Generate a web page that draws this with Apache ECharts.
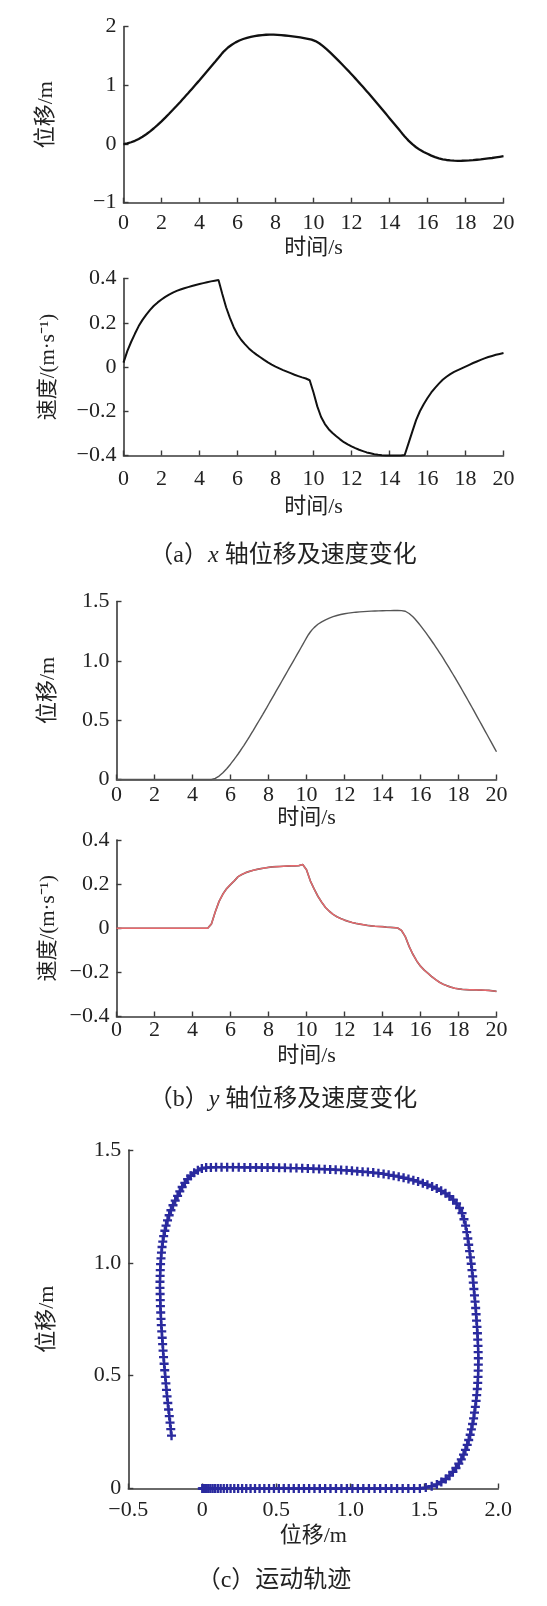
<!DOCTYPE html>
<html>
<head>
<meta charset="utf-8">
<script src="https://cdn.jsdelivr.net/npm/echarts@6/dist/echarts.min.js"></script>
<style>
html,body{margin:0;padding:0;background:#fff;}
#chart{width:547px;height:1606px;}
</style>
</head>
<body>
<div id="chart"></div>
<script>
// ---------------- DATA ----------------
// Displacements sampled every 0.1 s (t = 0 ... 20 s)
const dispStep = 0.1;
const xDisp = [
 0.000, 0.004, 0.010, 0.019, 0.030, 0.042, 0.055, 0.070, 0.087, 0.105, 0.124,
 0.145, 0.167, 0.191, 0.216, 0.242, 0.269, 0.297, 0.326, 0.356, 0.387,
 0.419, 0.451, 0.484, 0.517, 0.550, 0.584, 0.618, 0.652, 0.687, 0.722,
 0.758, 0.794, 0.830, 0.866, 0.903, 0.940, 0.977, 1.014, 1.051, 1.088,
 1.126, 1.164, 1.202, 1.240, 1.278, 1.316, 1.354, 1.392, 1.431, 1.470,
 1.510, 1.550, 1.585, 1.615, 1.645, 1.670, 1.693, 1.714, 1.733, 1.750,
 1.765, 1.778, 1.790, 1.800, 1.810, 1.818, 1.826, 1.833, 1.839, 1.845,
 1.850, 1.854, 1.858, 1.861, 1.863, 1.864, 1.865, 1.865, 1.864, 1.863,
 1.861, 1.859, 1.856, 1.853, 1.850, 1.847, 1.843, 1.839, 1.835, 1.831,
 1.827, 1.822, 1.817, 1.812, 1.806, 1.800, 1.794, 1.787, 1.779, 1.768,
 1.755, 1.738, 1.718, 1.695, 1.670, 1.643, 1.614, 1.584, 1.553, 1.521,
 1.490, 1.458, 1.426, 1.393, 1.360, 1.327, 1.293, 1.259, 1.225, 1.190,
 1.155, 1.119, 1.083, 1.047, 1.011, 0.975, 0.938, 0.901, 0.864, 0.827,
 0.789, 0.751, 0.713, 0.675, 0.636, 0.597, 0.558, 0.519, 0.480, 0.441,
 0.402, 0.363, 0.324, 0.285, 0.246, 0.207, 0.168, 0.130, 0.093, 0.058,
 0.026, -0.003, -0.030, -0.055, -0.078, -0.099, -0.118, -0.136, -0.152, -0.167,
 -0.183, -0.198, -0.212, -0.224, -0.235, -0.245, -0.253, -0.261, -0.267, -0.272,
 -0.276, -0.279, -0.282, -0.284, -0.285, -0.286, -0.286, -0.285, -0.284, -0.283,
 -0.281, -0.279, -0.277, -0.274, -0.271, -0.268, -0.265, -0.262, -0.258, -0.254,
 -0.250, -0.246, -0.242, -0.238, -0.233, -0.228, -0.223, -0.218, -0.213, -0.208
];
const yDisp = [
 0, 0, 0, 0, 0, 0, 0, 0, 0, 0,
 0, 0, 0, 0, 0, 0, 0, 0, 0, 0,
 0, 0, 0, 0, 0, 0, 0, 0, 0, 0,
 0, 0, 0, 0, 0, 0, 0, 0, 0, 0,
 0, 0, 0, 0, 0, 0, 0, 0, 0, 0, 0.000,
 0.004, 0.010, 0.018, 0.029, 0.042, 0.057, 0.074, 0.091, 0.110, 0.129,
 0.150, 0.171, 0.193, 0.215, 0.238, 0.262, 0.286, 0.311, 0.336, 0.362,
 0.388, 0.414, 0.441, 0.468, 0.495, 0.522, 0.549, 0.577, 0.604, 0.632,
 0.660, 0.688, 0.716, 0.744, 0.772, 0.800, 0.828, 0.856, 0.884, 0.912,
 0.940, 0.968, 0.996, 1.024, 1.052, 1.080, 1.108, 1.136, 1.165, 1.193,
 1.220, 1.243, 1.263, 1.280, 1.295, 1.308, 1.319, 1.329, 1.338, 1.346,
 1.353, 1.360, 1.366, 1.372, 1.377, 1.382, 1.386, 1.390, 1.394, 1.397,
 1.400, 1.402, 1.404, 1.406, 1.408, 1.410, 1.411, 1.413, 1.414, 1.415,
 1.416, 1.417, 1.418, 1.419, 1.420, 1.420, 1.421, 1.421, 1.422, 1.422,
 1.422, 1.423, 1.423, 1.423, 1.424, 1.424, 1.424, 1.424, 1.424, 1.423,
 1.422, 1.418, 1.410, 1.399, 1.386, 1.371, 1.354, 1.336, 1.317, 1.297,
 1.276, 1.255, 1.233, 1.211, 1.188, 1.165, 1.142, 1.118, 1.094, 1.070,
 1.045, 1.020, 0.994, 0.968, 0.942, 0.916, 0.889, 0.862, 0.835, 0.808,
 0.780, 0.752, 0.724, 0.696, 0.668, 0.640, 0.611, 0.582, 0.553, 0.524,
 0.495, 0.466, 0.437, 0.408, 0.379, 0.350, 0.321, 0.292, 0.263, 0.234
];
// Velocities sampled every 0.2 s (t = 0 ... 20 s)
const velStep = 0.2;
const xVel = [
 0.020, 0.072, 0.113, 0.150, 0.185, 0.213, 0.237, 0.258, 0.277, 0.292, 0.305,
 0.317, 0.327, 0.336, 0.344, 0.350, 0.356, 0.361, 0.366, 0.371, 0.375,
 0.379, 0.383, 0.387, 0.390, 0.393, 0.330, 0.270, 0.222, 0.180, 0.147,
 0.122, 0.102, 0.084, 0.069, 0.056, 0.044, 0.032, 0.021, 0.011, 0.002,
 -0.006, -0.014, -0.021, -0.028, -0.035, -0.041, -0.047, -0.052, -0.060, -0.115,
 -0.178, -0.226, -0.258, -0.281, -0.298, -0.313, -0.327, -0.340, -0.350, -0.359,
 -0.367, -0.374, -0.380, -0.386, -0.390, -0.394, -0.397, -0.399, -0.400, -0.400,
 -0.400, -0.400, -0.400, -0.398, -0.345, -0.292, -0.240, -0.200, -0.168, -0.140,
 -0.115, -0.094, -0.075, -0.058, -0.044, -0.032, -0.022, -0.014, -0.006, 0.002,
 0.010, 0.018, 0.025, 0.032, 0.039, 0.045, 0.050, 0.055, 0.059, 0.063
];
const yVel = [
 0, 0, 0, 0, 0, 0, 0, 0, 0, 0, 0, 0, 0, 0, 0, 0, 0, 0, 0, 0, 0, 0, 0, 0, 0,
 0.020, 0.075, 0.122, 0.155, 0.180, 0.198, 0.215, 0.234, 0.244, 0.252,
 0.258, 0.263, 0.267, 0.270, 0.273, 0.276, 0.278, 0.279, 0.280, 0.281,
 0.282, 0.283, 0.283, 0.284, 0.289,
 0.265, 0.215, 0.178, 0.145, 0.118, 0.094, 0.077, 0.063, 0.052, 0.044,
 0.037, 0.031, 0.026, 0.022, 0.019, 0.016, 0.013, 0.011, 0.009, 0.008,
 0.007, 0.005, 0.004, 0.003, 0.001,
 -0.010, -0.038, -0.082, -0.118, -0.148, -0.172, -0.190, -0.205, -0.220, -0.233,
 -0.245, -0.254, -0.261, -0.267, -0.272, -0.275, -0.277, -0.278, -0.279, -0.279,
 -0.280, -0.280, -0.281, -0.282, -0.284, -0.286
];
// Tick values and labels
const timeTickValues = [0, 2, 4, 6, 8, 10, 12, 14, 16, 18, 20];
const timeTickLabels = ['0', '2', '4', '6', '8', '10', '12', '14', '16', '18', '20'];
const xDispTickValues = [-1, 0, 1, 2];
const xDispTickLabels = ['\u22121', '0', '1', '2'];
const velTickValues = [-0.4, -0.2, 0, 0.2, 0.4];
const velTickLabels = ['\u22120.4', '\u22120.2', '0', '0.2', '0.4'];
const yDispTickValues = [0, 0.5, 1, 1.5];
const yDispTickLabels = ['0', '0.5', '1.0', '1.5'];
const trajXTickValues = [-0.5, 0, 0.5, 1, 1.5, 2];
const trajXTickLabels = ['\u22120.5', '0', '0.5', '1.0', '1.5', '2.0'];
// Text
const captions = ['a', 'b', 'c'];
// ---------------- BUILD ----------------
const FONT_NUM = "'Liberation Serif', 'DejaVu Serif', serif";
const FONT = "'Liberation Serif', 'Noto Sans CJK SC', serif";
const AXC = '#3a3a3a';
const TXT = '#222';
const TICK_FS = 22;

function pairs(vals, step) { return vals.map((v, i) => [+(i * step).toFixed(2), v]); }
function fmt(values, labels) {
  return function (v) {
    for (let i = 0; i < values.length; i++) if (Math.abs(values[i] - v) < 1e-6) return labels[i];
    return '';
  };
}
function xAx(gi, min, max, interval, values, labels, labelMargin, name, nameGap) {
  return {
    type: 'value', gridIndex: gi, min: min, max: max, interval: interval,
    axisLine: { show: true, onZero: false, lineStyle: { color: AXC, width: 1.6 } },
    axisTick: { show: true, inside: true, length: 5, lineStyle: { color: AXC, width: 1.4 } },
    splitLine: { show: false },
    axisLabel: { margin: labelMargin, fontFamily: FONT_NUM, fontSize: TICK_FS, color: TXT, formatter: fmt(values, labels) },
    name: name, nameLocation: 'middle', nameGap: nameGap,
    nameTextStyle: { fontFamily: FONT, fontSize: 22, color: TXT }
  };
}
function yAx(gi, min, max, interval, values, labels, name, nameGap, nameSize) {
  return {
    type: 'value', gridIndex: gi, min: min, max: max, interval: interval,
    axisLine: { show: true, onZero: false, lineStyle: { color: AXC, width: 1.6 } },
    axisTick: { show: true, inside: true, length: 5, lineStyle: { color: AXC, width: 1.4 } },
    splitLine: { show: false },
    axisLabel: { margin: 7, fontFamily: FONT_NUM, fontSize: TICK_FS, color: TXT, formatter: fmt(values, labels) },
    name: name, nameLocation: 'middle', nameGap: nameGap,
    nameTextStyle: { fontFamily: FONT, fontSize: nameSize, color: TXT }
  };
}
function grid(left, top, width, height) {
  return { left: left, top: top, width: width, height: height, containLabel: false, outerBoundsMode: 'none' };
}
function lineSeries(gi, data, color, width) {
  return { type: 'line', xAxisIndex: gi, yAxisIndex: gi, data: data, showSymbol: false, clip: false,
    lineStyle: { color: color, width: width }, itemStyle: { color: color }, animation: false, z: 3 };
}

const velName = '速度/(m·s\u207B\u00B9)';
const plusPath = 'path://M3.7,0 L6.3,0 L6.3,3.7 L10,3.7 L10,6.3 L6.3,6.3 L6.3,10 L3.7,10 L3.7,6.3 L0,6.3 L0,3.7 L3.7,3.7 Z';
const trajData = xDisp.map((x, i) => [x, yDisp[i]]);

function caption(letter, axisVar, rest, cx, y) {
  const parts = axisVar ? '{p|（' + letter + '）}{i|' + axisVar + '}{p| ' + rest + '}' : '{p|（' + letter + '）' + rest + '}';
  return {
    type: 'text', x: cx, y: y, silent: true,
    style: {
      text: parts, align: 'center', verticalAlign: 'middle',
      rich: {
        p: { fontFamily: FONT, fontSize: 24, fill: TXT },
        i: { fontFamily: FONT, fontSize: 24, fontStyle: 'italic', fill: TXT }
      }
    }
  };
}

const option = {
  backgroundColor: '#ffffff',
  animation: false,
  grid: [
    grid(123.5, 26.7, 380, 176),
    grid(123.5, 278.5, 380, 177),
    grid(116.5, 601.5, 380, 178),
    grid(116.5, 840, 380, 176.5),
    grid(128.3, 1150, 370, 338.5)
  ],
  xAxis: [
    xAx(0, 0, 20, 2, timeTickValues, timeTickLabels, 10, '时间/s', 35),
    xAx(1, 0, 20, 2, timeTickValues, timeTickLabels, 13, '时间/s', 41),
    xAx(2, 0, 20, 2, timeTickValues, timeTickLabels, 5, '时间/s', 25),
    xAx(3, 0, 20, 2, timeTickValues, timeTickLabels, 3, '时间/s', 29),
    xAx(4, -0.5, 2, 0.5, trajXTickValues, trajXTickLabels, 11, '位移/m', 37)
  ],
  yAxis: [
    yAx(0, -1, 2, 1, xDispTickValues, xDispTickLabels, '位移/m', 66.5, 22),
    yAx(1, -0.4, 0.4, 0.2, velTickValues, velTickLabels, velName, 65, 21),
    yAx(2, 0, 1.5, 0.5, yDispTickValues, yDispTickLabels, '位移/m', 57.5, 22),
    yAx(3, -0.4, 0.4, 0.2, velTickValues, velTickLabels, velName, 53, 21),
    yAx(4, 0, 1.5, 0.5, yDispTickValues, yDispTickLabels, '位移/m', 70.3, 22)
  ],
  series: [
    lineSeries(0, pairs(xDisp, dispStep), '#111111', 2.3),
    lineSeries(1, pairs(xVel, velStep), '#111111', 2.0),
    lineSeries(2, pairs(yDisp, dispStep), '#555555', 1.4),
    lineSeries(3, pairs(yVel, velStep), '#5a5a5a', 1.7),
    lineSeries(3, pairs(yVel, velStep), '#e8696d', 1.4),
    {
      type: 'line', xAxisIndex: 4, yAxisIndex: 4, data: trajData, clip: false,
      showSymbol: true, showAllSymbol: true, symbol: plusPath, symbolSize: 9,
      lineStyle: { color: '#2a2a9e', width: 2 },
      itemStyle: { color: '#2a2a9e' }, animation: false, z: 3
    }
  ],
  graphic: [
    caption(captions[0], 'x', '轴位移及速度变化', 283, 556),
    caption(captions[1], 'y', '轴位移及速度变化', 283, 1100),
    caption(captions[2], '', '运动轨迹', 274, 1581)
  ]
};

const chart = echarts.init(document.getElementById('chart'), null, { renderer: 'canvas' });
chart.setOption(option);
</script>
</body>
</html>
